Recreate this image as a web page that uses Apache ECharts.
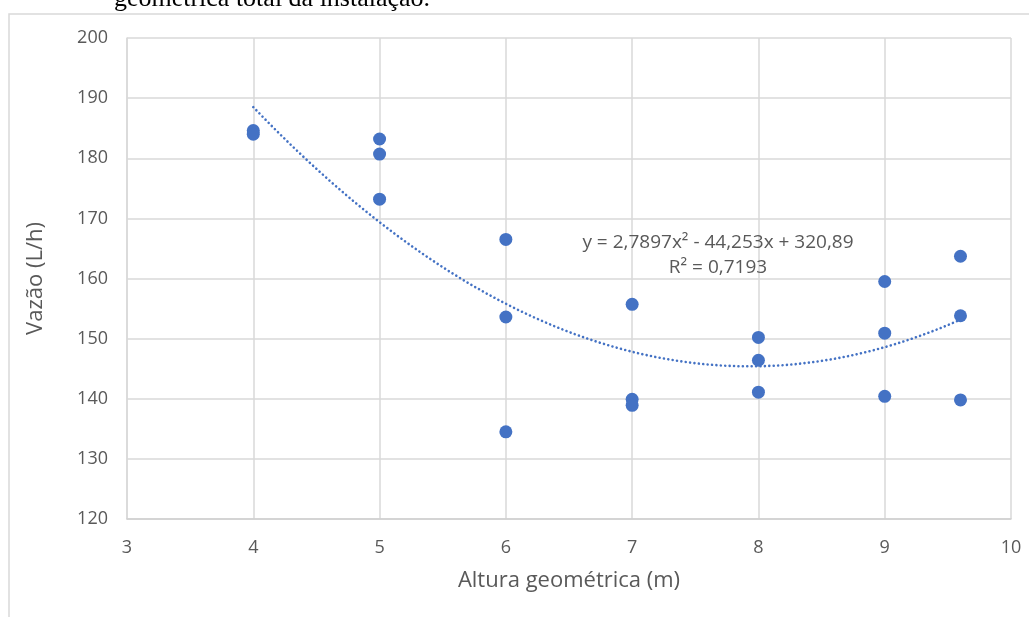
<!DOCTYPE html>
<html>
<head>
<meta charset="utf-8">
<script src="https://cdn.jsdelivr.net/npm/echarts@6/dist/echarts.min.js"></script>
<style>
html,body{margin:0;padding:0;background:#fff;}
#c{width:1029px;height:617px;}
</style>
</head>
<body>
<div id="c"></div>
<script>
// Data
const alturas = [4, 4, 5, 5, 5, 6, 6, 6, 7, 7, 7, 8, 8, 8, 9, 9, 9, 9.6, 9.6, 9.6];
const vazoes  = [184.6, 184.0, 183.2, 180.7, 173.2, 166.5, 153.6, 134.5, 155.7, 139.9, 138.9, 150.2, 146.4, 141.1, 159.5, 150.9, 140.4, 163.7, 153.8, 139.8];
// Polynomial trendline coefficients as printed on the chart (a, b, c)
const trendCoef = [2.7897, -44.253, 320.89];
const trendRange = [4, 9.6];
const eqLabel = 'y = 2,7897x² - 44,253x + 320,89';
const r2Label = 'R² = 0,7193';
const xTicks = [3, 4, 5, 6, 7, 8, 9, 10];
const yTicks = [120, 130, 140, 150, 160, 170, 180, 190, 200];
const captionText = 'geométrica total da instalação.';

const points = alturas.map((x, i) => [x, vazoes[i]]);
const trend = [];
const steps = 112;
for (let i = 0; i <= steps; i++) {
  const x = trendRange[0] + (trendRange[1] - trendRange[0]) * i / steps;
  trend.push([x, trendCoef[0] * x * x + trendCoef[1] * x + trendCoef[2]]);
}

const chart = echarts.init(document.getElementById('c'), null, {renderer: 'canvas'});
const font = '"Open Sans", sans-serif';
chart.setOption({
  animation: false,
  backgroundColor: '#fff',
  grid: {left: 127, right: 18, top: 38, bottom: 98, containLabel: false},
  xAxis: {
    type: 'value', min: xTicks[0], max: xTicks[xTicks.length - 1], interval: 1,
    name: 'Altura geométrica (m)', nameLocation: 'middle', nameGap: 51,
    nameTextStyle: {color: '#595959', fontSize: 22, fontFamily: font},
    axisLine: {show: true, lineStyle: {color: '#d0d0d0', width: 1.5}},
    axisTick: {show: false},
    axisLabel: {color: '#595959', fontSize: 18, fontFamily: font, margin: 20},
    splitLine: {show: true, lineStyle: {color: '#d9d9d9', width: 1.5}}
  },
  yAxis: {
    type: 'value', min: yTicks[0], max: yTicks[yTicks.length - 1], interval: 10,
    name: 'Vazão (L/h)', nameLocation: 'middle', nameGap: 80, nameRotate: 90,
    nameTextStyle: {color: '#595959', fontSize: 22, fontFamily: font},
    axisLine: {show: true, lineStyle: {color: '#d9d9d9', width: 1.5}},
    axisTick: {show: false},
    axisLabel: {color: '#595959', fontSize: 18, fontFamily: font, margin: 19},
    splitLine: {show: true, lineStyle: {color: '#d9d9d9', width: 1.5}}
  },
  series: [
    {
      type: 'line', data: trend, showSymbol: false, smooth: false, z: 2,
      lineStyle: {color: '#4472C4', width: 2.6, type: [0.01, 4.4], cap: 'round'}
    },
    {
      type: 'scatter', data: points, symbol: 'circle', symbolSize: 13, z: 3,
      itemStyle: {color: '#4472C4', opacity: 1}
    }
  ],
  graphic: [
    {type: 'rect', shape: {x: 9, y: 14, width: 1100, height: 700},
     style: {fill: null, stroke: '#d9d9d9', lineWidth: 1.5}, z: 0, silent: true},
    {type: 'text', x: 272, y: 12, style: {text: captionText, fill: '#000',
      font: '26px "Liberation Serif", "Times New Roman", serif', textAlign: 'center', textVerticalAlign: 'bottom'}},
    {type: 'text', x: 718, y: 243, style: {text: eqLabel, fill: '#595959',
      font: '19px ' + font, textAlign: 'center', textVerticalAlign: 'middle'}, z: 10},
    {type: 'text', x: 718, y: 268, style: {text: r2Label, fill: '#595959',
      font: '19px ' + font, textAlign: 'center', textVerticalAlign: 'middle'}, z: 10}
  ]
});
</script>
</body>
</html>
